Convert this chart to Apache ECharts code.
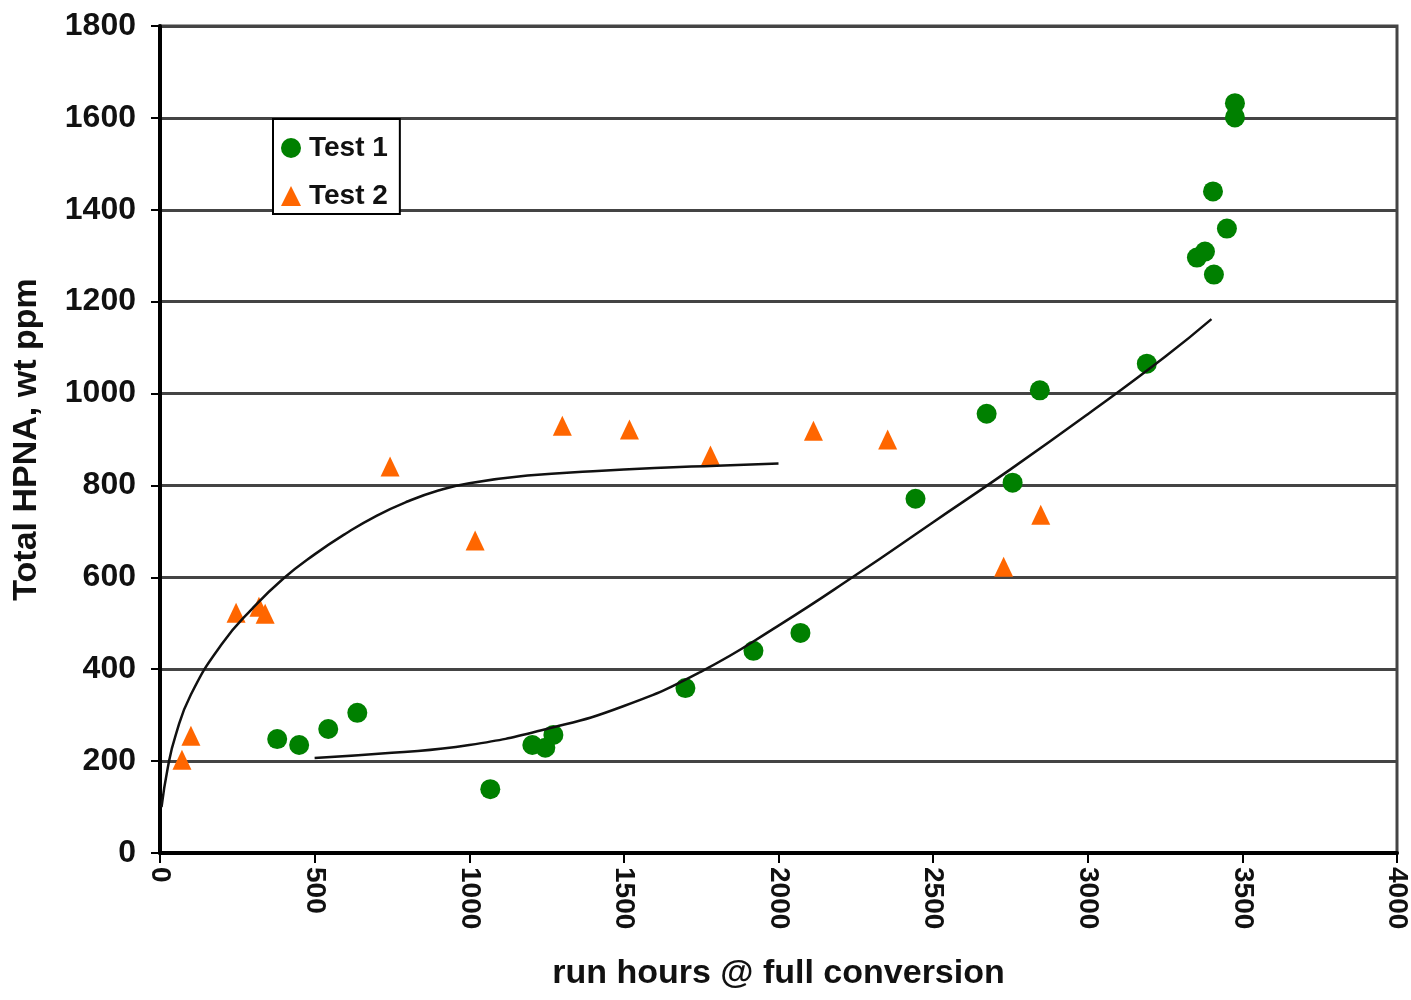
<!DOCTYPE html>
<html>
<head>
<meta charset="utf-8">
<script src="https://cdn.jsdelivr.net/npm/echarts@6/dist/echarts.min.js"></script>
<style>
html,body{margin:0;padding:0;background:#fff;}
#chart{width:1411px;height:1000px;}
</style>
</head>
<body>
<div id="chart"></div>
<script>
// ---- data ----
const xTicks = [0, 500, 1000, 1500, 2000, 2500, 3000, 3500, 4000];
const yTicks = [0, 200, 400, 600, 800, 1000, 1200, 1400, 1600, 1800];

const test1X = [379, 450, 544, 638, 1068, 1204, 1246, 1272, 1699, 1919, 2071, 2443, 2673, 2757, 2845, 3191, 3353, 3379, 3408, 3450, 3405, 3476, 3476];
const test1Y = [248, 235, 270, 305, 139, 235, 229, 257, 359, 440, 479, 771, 956, 806, 1007, 1065, 1296, 1309, 1259, 1359, 1440, 1601, 1632];

const test2X = [71, 100, 246, 320, 340, 744, 1019, 1301, 1518, 1780, 2113, 2353, 2728, 2848];
const test2Y = [203, 255, 523, 536, 521, 841, 680, 930, 922, 865, 919, 900, 623, 736];

const fit2X = [5, 25, 50, 100, 200, 300, 400, 500, 600, 700, 800, 900, 1000, 1200, 1400, 1600, 1800, 2000];
const fit2Y = [100, 185, 255, 345, 455, 533, 598, 650, 695, 734, 765, 789, 805, 822, 831, 838, 843, 848];

const fit1X = [500, 750, 1000, 1250, 1500, 1750, 2000, 2250, 2500, 2750, 3000, 3250, 3400];
const fit1Y = [207, 218, 235, 270, 320, 395, 495, 605, 720, 835, 955, 1080, 1162];

const zip = (a, b) => a.map((v, i) => [v, b[i]]);

const FONT = '"Liberation Sans", Arial, sans-serif';
const chart = echarts.init(document.getElementById('chart'), null, {renderer: 'canvas'});

chart.setOption({
  backgroundColor: '#fff',
  animation: false,
  grid: {
    left: 160, right: 14, top: 26, bottom: 147,
    show: true, borderColor: '#444', borderWidth: 3, backgroundColor: 'transparent'
  },
  legend: {
    data: [
      {name: 'Test 1', icon: 'circle'},
      {name: 'Test 2', icon: 'triangle'}
    ],
    orient: 'vertical',
    left: 273, top: 119,
    backgroundColor: '#fff',
    borderColor: '#000', borderWidth: 2, borderRadius: 0,
    padding: [15, 12, 4, 8],
    itemWidth: 20, itemHeight: 20, itemGap: 20,
    textStyle: {fontFamily: FONT, fontWeight: 'bold', fontSize: 28, lineHeight: 28, color: '#111', padding: [0, 0, 0, 3]}
  },
  xAxis: {
    type: 'value', min: 0, max: 4000, interval: 500,
    name: 'run hours @ full conversion', nameLocation: 'middle', nameGap: 104,
    nameTextStyle: {fontFamily: FONT, fontWeight: 'bold', fontSize: 34, color: '#111'},
    axisLine: {show: true, onZero: false, lineStyle: {color: '#000', width: 4}},
    axisTick: {show: true, inside: false, length: 10, lineStyle: {color: '#000', width: 2}},
    axisLabel: {
      rotate: -90, margin: 14,
      fontFamily: FONT, fontWeight: 'bold', fontSize: 28, color: '#111',
      formatter: v => xTicks.includes(v) ? String(v) : ''
    },
    splitLine: {show: false}
  },
  yAxis: {
    type: 'value', min: 0, max: 1800, interval: 200,
    name: 'Total HPNA, wt ppm', nameLocation: 'middle', nameGap: 116,
    nameTextStyle: {fontFamily: FONT, fontWeight: 'bold', fontSize: 34, color: '#111'},
    axisLine: {show: true, onZero: false, lineStyle: {color: '#000', width: 4}},
    axisTick: {show: true, inside: false, length: 9, lineStyle: {color: '#000', width: 2}},
    axisLabel: {
      margin: 24,
      fontFamily: FONT, fontWeight: 'bold', fontSize: 32, color: '#111',
      formatter: v => yTicks.includes(v) ? String(v) : ''
    },
    splitLine: {show: true, lineStyle: {color: '#444', width: 3}}
  },
  series: [
    {
      name: 'Test 1', type: 'scatter', data: zip(test1X, test1Y),
      symbol: 'circle', symbolSize: 20,
      itemStyle: {color: '#008000', opacity: 1}, z: 3
    },
    {
      name: 'Test 2', type: 'scatter', data: zip(test2X, test2Y),
      symbol: 'triangle', symbolSize: [19, 20],
      itemStyle: {color: '#ff6600', opacity: 1}, z: 3
    },
    {
      name: 'fit2', type: 'line', data: zip(fit2X, fit2Y),
      smooth: 0.5, showSymbol: false, symbol: 'none',
      lineStyle: {color: '#111', width: 2.5}, z: 4, silent: true
    },
    {
      name: 'fit1', type: 'line', data: zip(fit1X, fit1Y),
      smooth: 0.5, showSymbol: false, symbol: 'none',
      lineStyle: {color: '#111', width: 2.5}, z: 4, silent: true
    }
  ]
});
</script>
</body>
</html>
